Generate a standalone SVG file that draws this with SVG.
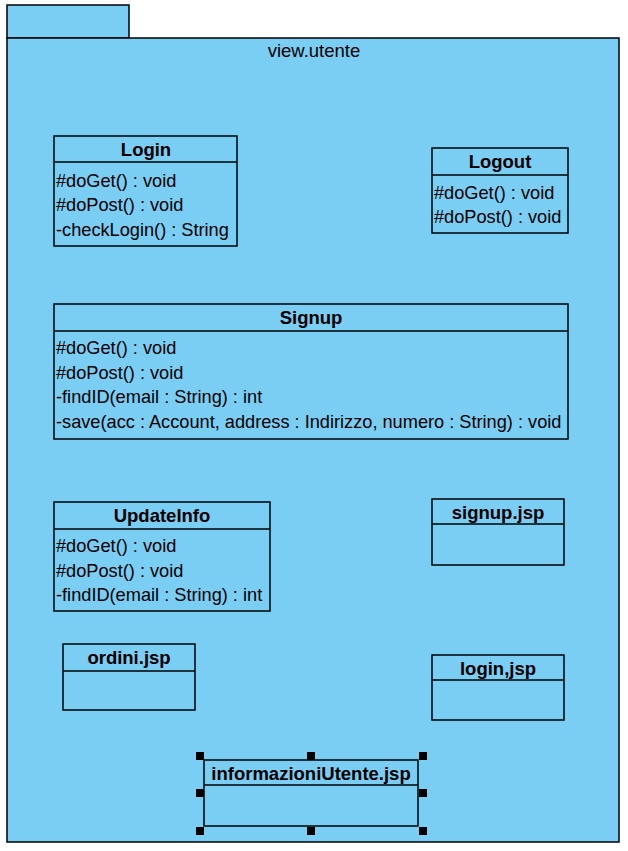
<svg xmlns="http://www.w3.org/2000/svg" width="628" height="851" viewBox="0 0 628 851">
<style>
.pkg{fill:#7acef4;stroke:#000;stroke-width:1.5}
.box{fill:#7acef4;stroke:#000;stroke-width:1.5}
.ln{stroke:#000;stroke-width:1.5}
.t{font-family:"Liberation Sans",Arial,sans-serif;font-size:18.2px;fill:#000}
.h{font-family:"Liberation Sans",Arial,sans-serif;font-size:18.5px;font-weight:bold;fill:#000;text-anchor:middle}
.hd{fill:#000}
</style>
<rect width="628" height="851" fill="#fff"/>
<g id="package">
<rect class="pkg" x="7" y="5" width="122" height="33"/>
<rect class="pkg" x="7" y="38" width="612" height="804"/>
<text class="t" x="314" y="57" text-anchor="middle" style="font-size:18.5px">view.utente</text>
</g>
<g id="Login">
<rect class="box" x="54" y="136" width="183" height="110"/>
<line class="ln" x1="54" y1="162" x2="237" y2="162"/>
<text class="h" x="146" y="156">Login</text>
<text class="t" x="56" y="187">#doGet() : void</text>
<text class="t" x="56" y="211">#doPost() : void</text>
<text class="t" x="56" y="236">-checkLogin() : String</text>
</g>
<g id="Logout">
<rect class="box" x="432" y="148" width="136" height="85"/>
<line class="ln" x1="432" y1="175" x2="568" y2="175"/>
<text class="h" x="500" y="168">Logout</text>
<text class="t" x="434" y="199">#doGet() : void</text>
<text class="t" x="434" y="223">#doPost() : void</text>
</g>
<g id="Signup">
<rect class="box" x="54" y="304" width="514" height="135"/>
<line class="ln" x1="54" y1="331" x2="568" y2="331"/>
<text class="h" x="311" y="324">Signup</text>
<text class="t" x="56" y="354">#doGet() : void</text>
<text class="t" x="56" y="379">#doPost() : void</text>
<text class="t" x="56" y="403">-findID(email : String) : int</text>
<text class="t" x="56" y="428">-save(acc : Account, address : Indirizzo, numero : String) : void</text>
</g>
<g id="UpdateInfo">
<rect class="box" x="54" y="502" width="216" height="109"/>
<line class="ln" x1="54" y1="529" x2="270" y2="529"/>
<text class="h" x="162" y="522">UpdateInfo</text>
<text class="t" x="56" y="552">#doGet() : void</text>
<text class="t" x="56" y="577">#doPost() : void</text>
<text class="t" x="56" y="601">-findID(email : String) : int</text>
</g>
<g id="signup_jsp">
<rect class="box" x="432" y="499" width="132" height="66"/>
<line class="ln" x1="432" y1="524" x2="564" y2="524"/>
<text class="h" x="498" y="519">signup.jsp</text>
</g>
<g id="ordini_jsp">
<rect class="box" x="63" y="644" width="132" height="66"/>
<line class="ln" x1="63" y1="671" x2="195" y2="671"/>
<text class="h" x="129" y="664">ordini.jsp</text>
</g>
<g id="login_jsp">
<rect class="box" x="432" y="655" width="132" height="65"/>
<line class="ln" x1="432" y1="680" x2="564" y2="680"/>
<text class="h" x="498" y="675">login,jsp</text>
</g>
<g id="informazioniUtente_jsp">
<rect class="box" x="204" y="760" width="214" height="66"/>
<line class="ln" x1="204" y1="785" x2="418" y2="785"/>
<text class="h" x="311" y="780">informazioniUtente.jsp</text>
<rect class="hd" x="196" y="752" width="8" height="8"/>
<rect class="hd" x="307" y="752" width="8" height="8"/>
<rect class="hd" x="419" y="752" width="8" height="8"/>
<rect class="hd" x="196" y="789" width="8" height="8"/>
<rect class="hd" x="419" y="789" width="8" height="8"/>
<rect class="hd" x="196" y="827" width="8" height="8"/>
<rect class="hd" x="307" y="827" width="8" height="8"/>
<rect class="hd" x="419" y="827" width="8" height="8"/>
</g>
<g id="connectors"/>
</svg>
